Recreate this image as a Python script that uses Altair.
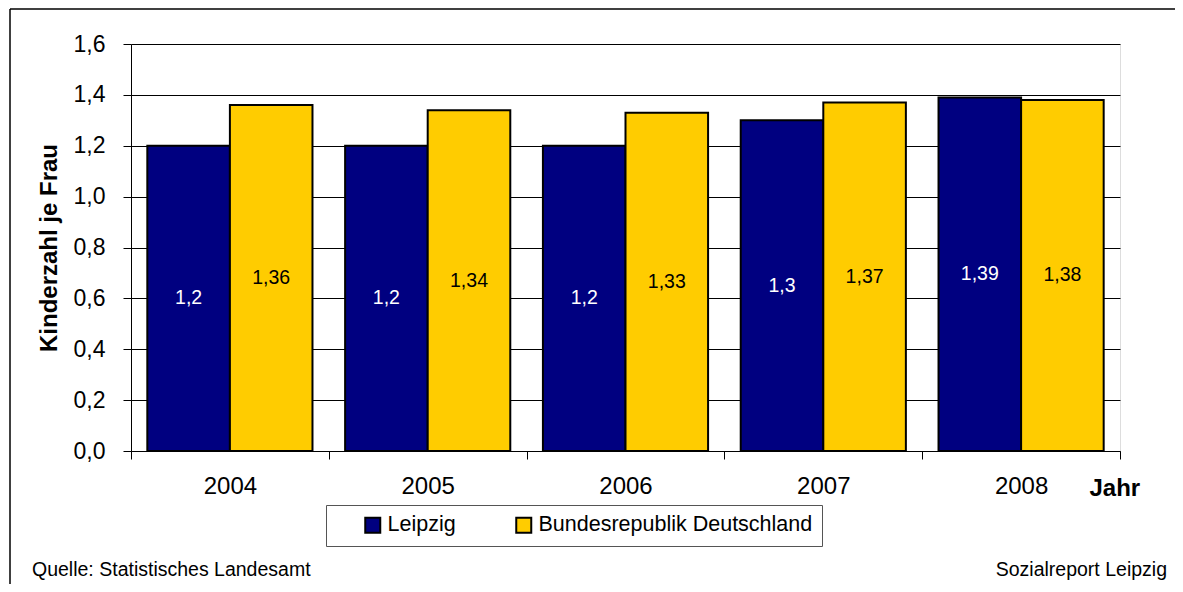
import altair as alt
import pandas as pd

years = ["2004", "2005", "2006", "2007", "2008"]
series = ["Leipzig", "Bundesrepublik Deutschland"]
leipzig = [1.2, 1.2, 1.2, 1.3, 1.39]
brd = [1.36, 1.34, 1.33, 1.37, 1.38]
colors = ["#000080", "#FFCC00"]
label_colors = ["white", "black"]
y_ticks = [0.0, 0.2, 0.4, 0.6, 0.8, 1.0, 1.2, 1.4, 1.6]
y_title = "Kinderzahl je Frau"
x_title = "Jahr"
source_left = "Quelle: Statistisches Landesamt"
source_right = "Sozialreport Leipzig"

FONT = "Liberation Sans"

rows = []
for i, yr in enumerate(years):
    for s, vals, lc in zip(series, [leipzig, brd], label_colors):
        rows.append({
            "Jahr": yr,
            "Reihe": s,
            "Wert": vals[i],
            "Label": f"{vals[i]}".replace(".", ","),
            "LabelColor": lc,
        })
df = pd.DataFrame(rows)

x_enc = alt.X(
    "Jahr:N", sort=years,
    scale=alt.Scale(paddingInner=0, paddingOuter=0),
    axis=alt.Axis(
        title=x_title, labelAngle=0, labelFont=FONT, labelFontSize=24,
        labelColor="black", labelPadding=15, tickBand="extent",
        tickColor="black", tickSize=8, domainColor="black",
        titleFont=FONT, titleFontSize=24, titleFontWeight="bold",
        titleX=958, titleY=37, titleAlign="left", titleBaseline="middle",
        titleColor="black",
    ),
)
xoff = alt.XOffset("Reihe:N", sort=series,
                   scale=alt.Scale(paddingInner=0, paddingOuter=0.1976))

y_axis = alt.Axis(
    title=y_title, values=y_ticks,
    labelExpr="replace(format(datum.value, '.1f'), '.', ',')",
    labelFont=FONT, labelFontSize=23, labelColor="black", labelPadding=18,
    tickColor="black", tickSize=8, domainColor="black",
    gridColor="black", gridWidth=1, grid=True,
    titleFont=FONT, titleFontSize=24, titleFontWeight="bold",
    titleColor="black", titlePadding=12,
)

base = alt.Chart(df).encode(x=x_enc, xOffset=xoff)

bars = base.mark_bar(stroke="black", strokeWidth=2).encode(
    y=alt.Y("Wert:Q", scale=alt.Scale(domain=[0, 1.6], nice=False), axis=y_axis),
    color=alt.Color(
        "Reihe:N", sort=series,
        scale=alt.Scale(domain=series, range=colors),
        legend=alt.Legend(
            title=None, orient="none", legendX=195, legendY=461,
            direction="horizontal", labelFont=FONT, labelFontSize=21.5,
            labelColor="black", labelLimit=500, symbolType="square",
            symbolSize=225, symbolStrokeColor="black", symbolStrokeWidth=2,
            symbolOpacity=1,
            fillColor="white", strokeColor="#555555", padding=9,
            symbolOffset=27, columnPadding=30, labelOffset=4,
        ),
    ),
)

labels = base.transform_calculate(mid="datum.Wert / 2").mark_text(
    font=FONT, fontSize=19.5, baseline="middle", align="center"
).encode(
    y=alt.Y("mid:Q", axis=y_axis),
    text="Label:N",
    color=alt.Color("LabelColor:N", scale=None),
)

one = pd.DataFrame({"f": [1]})
frame_top = alt.Chart(one).mark_rule(color="black", strokeWidth=1.5).encode(
    x=alt.value(-121), x2=alt.value(1300), y=alt.value(-35)
)
frame_left = alt.Chart(one).mark_rule(color="black", strokeWidth=1.5).encode(
    x=alt.value(-121), y=alt.value(-35), y2=alt.value(800)
)

foot_left = alt.Chart(pd.DataFrame({"t": [source_left]})).mark_text(
    font=FONT, fontSize=19.5, align="left", baseline="middle", color="black"
).encode(text="t:N", x=alt.value(-99), y=alt.value(526))

foot_right = alt.Chart(pd.DataFrame({"t": [source_right]})).mark_text(
    font=FONT, fontSize=19.5, align="right", baseline="middle", color="black"
).encode(text="t:N", x=alt.value(1036), y=alt.value(526))

chart = alt.layer(bars, labels, frame_top, frame_left, foot_left, foot_right).properties(
    width=989, height=407,
    autosize=alt.AutoSizeParams(type="none"),
    padding={"left": 123, "top": 36, "right": 55, "bottom": 133},
).configure_view(stroke="#808080", strokeWidth=1).configure(background="white")

chart.save("out.html", embed_options={"renderer": "svg", "actions": False})
